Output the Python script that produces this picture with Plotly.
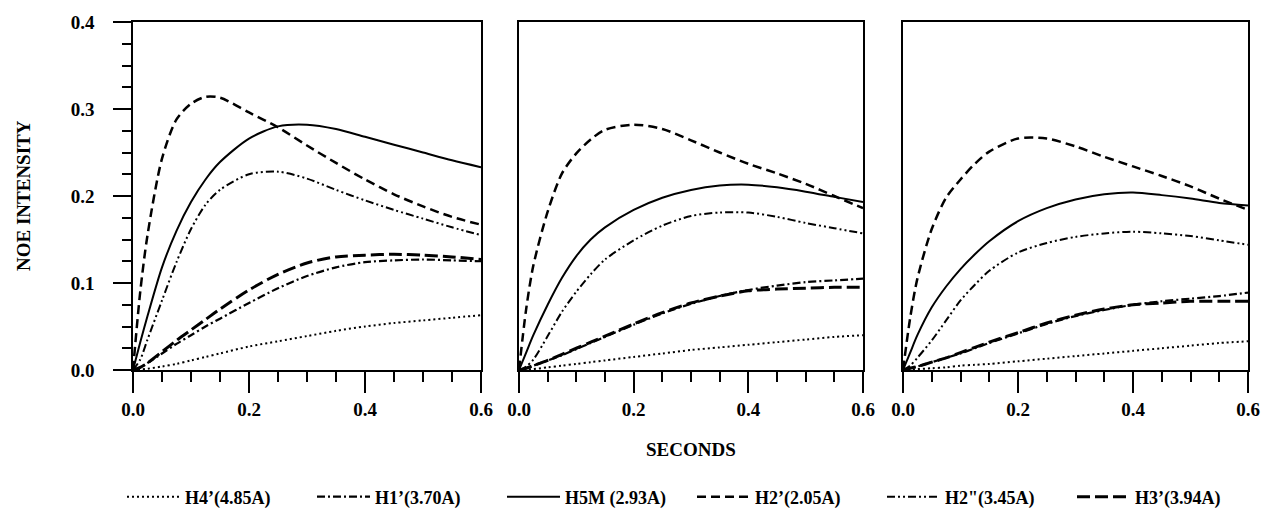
import plotly.graph_objects as go

# ---------------- data ----------------
seconds = [0, 0.0125, 0.025, 0.05, 0.075, 0.1, 0.125, 0.15, 0.2, 0.25, 0.3, 0.35, 0.4, 0.45, 0.5, 0.55, 0.6]

series_names = ["H4’(4.85A)", "H1’(3.70A)", "H5M (2.93A)", "H2’(2.05A)", 'H2"(3.45A)', "H3’(3.94A)"]

x_ticks = [0.0, 0.2, 0.4, 0.6]
y_ticks = [0.0, 0.1, 0.2, 0.3, 0.4]

# panel 1
p1_h4 = [0, 0.0005, 0.0015, 0.004, 0.007, 0.011, 0.015, 0.019, 0.027, 0.033, 0.039, 0.045, 0.050, 0.054, 0.057, 0.060, 0.063]
p1_h1 = [0, 0.003, 0.008, 0.019, 0.030, 0.040, 0.050, 0.059, 0.077, 0.094, 0.108, 0.118, 0.124, 0.126, 0.127, 0.126, 0.125]
p1_h5m = [0, 0.032, 0.062, 0.118, 0.160, 0.193, 0.219, 0.239, 0.266, 0.280, 0.282, 0.277, 0.268, 0.259, 0.250, 0.241, 0.233]
p1_h2p = [0, 0.090, 0.155, 0.243, 0.288, 0.306, 0.314, 0.313, 0.296, 0.279, 0.258, 0.238, 0.219, 0.202, 0.188, 0.176, 0.167]
p1_h2pp = [0, 0.012, 0.035, 0.080, 0.124, 0.162, 0.190, 0.207, 0.225, 0.228, 0.220, 0.207, 0.195, 0.184, 0.174, 0.164, 0.155]
p1_h3 = [0, 0.003, 0.008, 0.021, 0.034, 0.046, 0.058, 0.070, 0.092, 0.110, 0.123, 0.130, 0.132, 0.133, 0.132, 0.130, 0.127]

# panel 2
p2_h4 = [0, 0.0005, 0.001, 0.003, 0.005, 0.007, 0.009, 0.011, 0.015, 0.019, 0.023, 0.026, 0.029, 0.032, 0.035, 0.038, 0.040]
p2_h1 = [0, 0.002, 0.005, 0.011, 0.017, 0.024, 0.031, 0.038, 0.052, 0.065, 0.076, 0.085, 0.092, 0.097, 0.101, 0.103, 0.105]
p2_h5m = [0, 0.020, 0.040, 0.075, 0.106, 0.131, 0.150, 0.164, 0.184, 0.198, 0.207, 0.212, 0.213, 0.210, 0.205, 0.199, 0.193]
p2_h2p = [0, 0.070, 0.120, 0.182, 0.226, 0.249, 0.265, 0.276, 0.282, 0.277, 0.264, 0.250, 0.237, 0.226, 0.214, 0.200, 0.186]
p2_h2pp = [0, 0.004, 0.012, 0.039, 0.067, 0.090, 0.110, 0.127, 0.149, 0.166, 0.177, 0.181, 0.181, 0.176, 0.169, 0.163, 0.157]
p2_h3 = [0, 0.002, 0.005, 0.011, 0.018, 0.025, 0.032, 0.039, 0.053, 0.066, 0.077, 0.085, 0.091, 0.093, 0.094, 0.095, 0.095]

# panel 3
p3_h4 = [0, 0.0003, 0.001, 0.002, 0.003, 0.005, 0.006, 0.007, 0.010, 0.013, 0.016, 0.019, 0.022, 0.025, 0.028, 0.031, 0.033]
p3_h1 = [0, 0.002, 0.004, 0.009, 0.014, 0.019, 0.025, 0.031, 0.042, 0.053, 0.062, 0.069, 0.075, 0.079, 0.082, 0.085, 0.089]
p3_h5m = [0, 0.020, 0.040, 0.072, 0.096, 0.116, 0.133, 0.148, 0.171, 0.186, 0.196, 0.202, 0.204, 0.201, 0.197, 0.192, 0.189]
p3_h2p = [0, 0.060, 0.105, 0.162, 0.198, 0.219, 0.237, 0.251, 0.266, 0.266, 0.257, 0.245, 0.234, 0.223, 0.211, 0.197, 0.184]
p3_h2pp = [0, 0.005, 0.014, 0.034, 0.057, 0.080, 0.098, 0.114, 0.135, 0.146, 0.153, 0.157, 0.159, 0.157, 0.154, 0.149, 0.144]
p3_h3 = [0, 0.002, 0.004, 0.009, 0.014, 0.020, 0.026, 0.032, 0.043, 0.054, 0.063, 0.070, 0.075, 0.077, 0.079, 0.079, 0.079]

panels = [
    [p1_h4, p1_h1, p1_h5m, p1_h2p, p1_h2pp, p1_h3],
    [p2_h4, p2_h1, p2_h5m, p2_h2p, p2_h2pp, p2_h3],
    [p3_h4, p3_h1, p3_h5m, p3_h2p, p3_h2pp, p3_h3],
]

# ---------------- styles ----------------
dashes = ["2px,3px", "8px,3px,2px,3px", "solid", "9px,5px", "8px,3px,2px,3px,2px,3px", "13px,5px"]
widths = [2, 2.2, 2, 2.5, 2, 3]

W, H = 1266, 508
x_domains = [(133 / W, 481 / W), (519 / W, 863 / W), (903 / W, 1248 / W)]
y_domain = (1 - 370 / H, 1 - 22 / H)

FONT = "Liberation Serif"
tickfont = dict(family=FONT, size=19, color="black", weight="bold")

fig = go.Figure()
for p, series in enumerate(panels):
    for k, vals in enumerate(series):
        fig.add_trace(go.Scatter(
            x=seconds, y=vals, mode="lines",
            name=series_names[k], legendgroup=series_names[k],
            showlegend=(p == 0),
            line=dict(color="black", width=widths[k], dash=dashes[k], shape="spline", smoothing=0.8),
            xaxis=f"x{p + 1 if p else ''}", yaxis=f"y{p + 1 if p else ''}",
        ))

layout = dict(
    template="none",
    width=W, height=H,
    margin=dict(l=0, r=0, t=0, b=0, autoexpand=False),
    paper_bgcolor="white", plot_bgcolor="white",
    showlegend=True,
    legend=dict(orientation="h", x=122 / W, xanchor="left", y=1 - 497 / H, yanchor="middle",
                font=dict(family=FONT, size=18, color="black", weight="bold"),
                entrywidth=122, entrywidthmode="pixels", itemwidth=53,
                bgcolor="rgba(0,0,0,0)", borderwidth=0),
)

for p in range(3):
    sfx = str(p + 1) if p else ""
    layout[f"xaxis{sfx}"] = dict(
        domain=list(x_domains[p]), range=[0, 0.6], anchor=f"y{sfx}", automargin=False,
        tickmode="array", tickvals=x_ticks, ticktext=[f"{v:.1f}" for v in x_ticks],
        ticks="outside", ticklen=21, tickwidth=1.5, tickcolor="black",
        minor=dict(dtick=0.05, tick0=0, ticks="outside", ticklen=10, tickwidth=1.5, tickcolor="black", showgrid=False),
        showline=True, linecolor="black", linewidth=2, mirror=True,
        showgrid=False, zeroline=False, tickfont=tickfont,
    )
    ydict = dict(
        domain=list(y_domain), range=[0, 0.4], anchor=f"x{sfx}", automargin=False,
        showline=True, linecolor="black", linewidth=1.5, mirror=True,
        showgrid=False, zeroline=False,
    )
    if p == 0:
        ydict.update(
            tickmode="array", tickvals=y_ticks, ticktext=[f"{v:.1f}" for v in y_ticks],
            ticks="outside", ticklen=18, tickwidth=1.5, tickcolor="black",
            minor=dict(dtick=0.025, tick0=0, ticks="outside", ticklen=9, tickwidth=1.5, tickcolor="black", showgrid=False),
            tickfont=tickfont, ticklabelstandoff=15,
        )
    else:
        ydict.update(showticklabels=False, ticks="")
    layout[f"yaxis{sfx}"] = ydict

layout["annotations"] = [
    dict(text="NOE INTENSITY", x=23 / W, y=1 - 196 / H, xref="paper", yref="paper",
         textangle=-90, showarrow=False, xanchor="center", yanchor="middle",
         font=dict(family=FONT, size=19, color="black", weight="bold")),
    dict(text="SECONDS", x=691 / W, y=1 - 449 / H, xref="paper", yref="paper",
         showarrow=False, xanchor="center", yanchor="middle",
         font=dict(family=FONT, size=19, color="black", weight="bold")),
]

fig.update_layout(**layout)
fig.write_html("out.html", config={"displayModeBar": False},
               post_script="document.body.style.margin='0';document.body.style.overflow='hidden';")
